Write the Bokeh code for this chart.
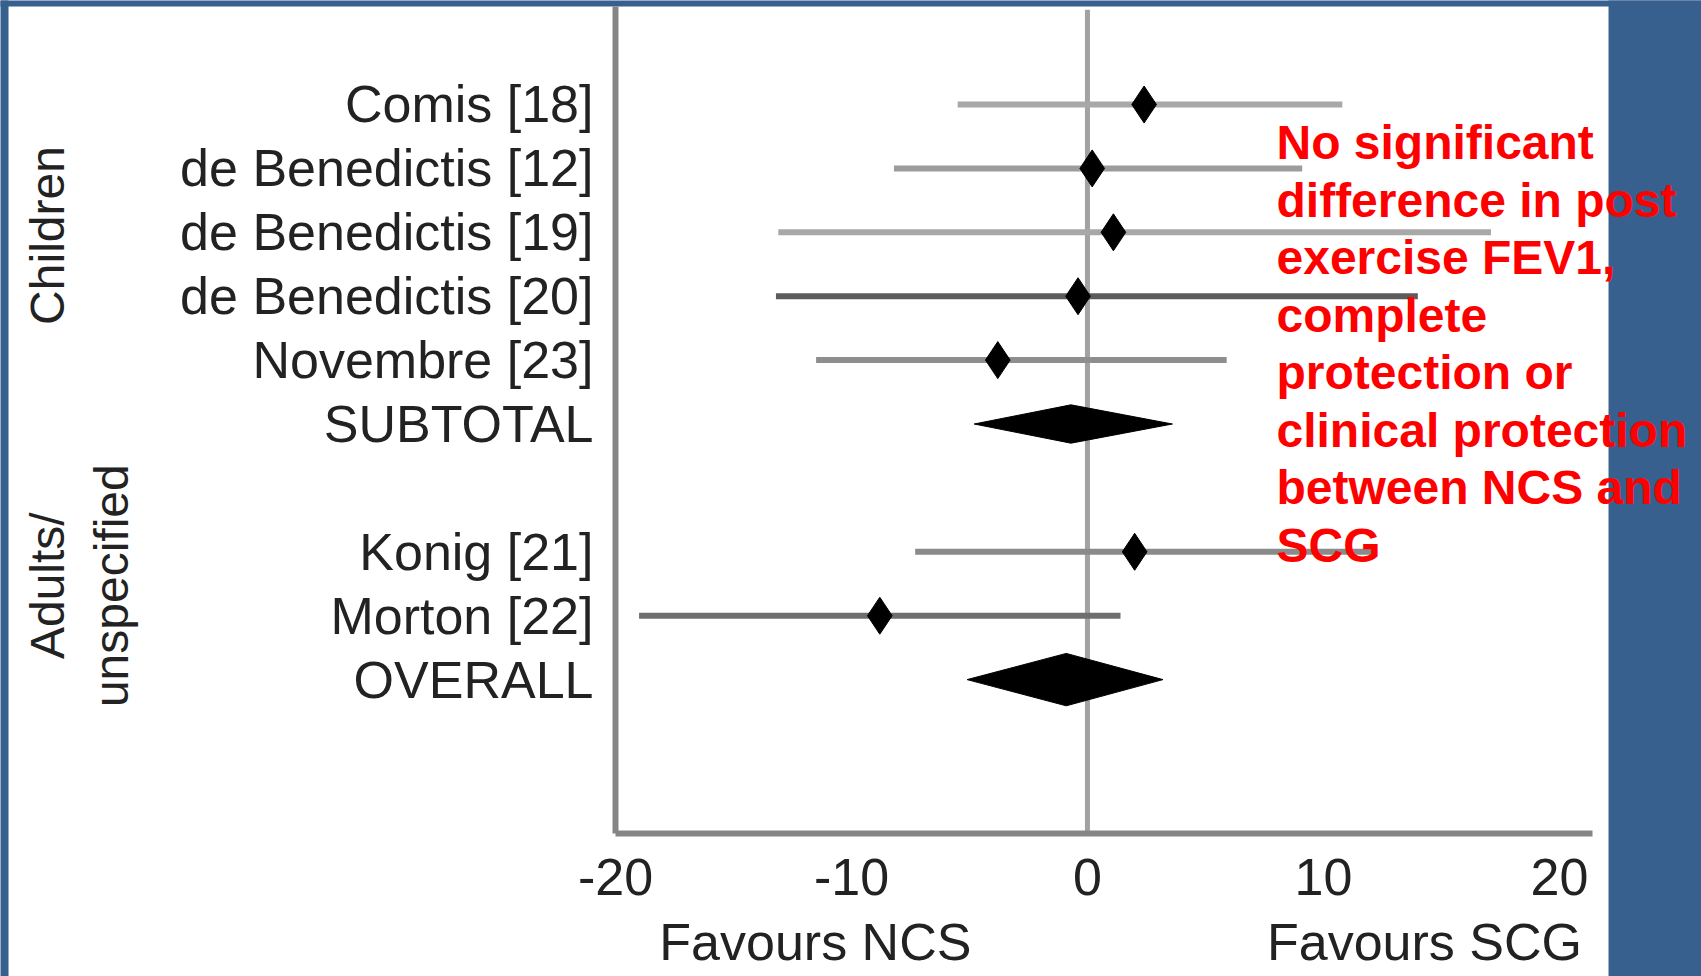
import math

from bokeh.plotting import figure
from bokeh.models import Range1d, FixedTicker, Label, BoxAnnotation, ColumnDataSource, LinearAxis
from bokeh.embed import file_html
from bokeh.resources import INLINE

# Individual trials: mean difference in post-exercise FEV1 with 95% CI
study_names = ["Comis [18]", "de Benedictis [12]", "de Benedictis [19]",
               "de Benedictis [20]", "Novembre [23]", "Konig [21]", "Morton [22]"]
study_rows = [1, 2, 3, 4, 5, 8, 9]
study_est = [2.4, 0.2, 1.1, -0.4, -3.8, 2.0, -8.8]
study_lo = [-5.5, -8.2, -13.1, -13.2, -11.5, -7.3, -19.0]
study_hi = [10.8, 9.1, 17.1, 14.0, 5.9, 12.2, 1.4]

# Pooled estimates
pooled_names = ["SUBTOTAL", "OVERALL"]
pooled_rows = [6, 10]
pooled_est = [-0.7, -0.9]
pooled_lo = [-4.8, -5.1]
pooled_hi = [3.6, 3.2]

x_ticks = [-20, -10, 0, 10, 20]
x_tick_labels = ["-20", "-10", "0", "10", "20"]

group_children = "Children"
group_adults = ["Adults/", "unspecified"]
favours_left = "Favours NCS"
favours_right = "Favours SCG"
note_lines = ["No significant", "difference in post", "exercise FEV1,", "complete",
              "protection or", "clinical protection", "between NCS and", "SCG"]

# ---- styling ----
BLUE = "#37608f"
INK = "#222222"
AXIS_GREY = "#858585"
FONT = "Liberation Sans"
FS = "52px"
ci_colors = ["#a8a8a8", "#9c9c9c", "#a8a8a8", "#5c5c5c", "#8e8e8e", "#8a8a8a", "#6e6e6e"]
pooled_half_height = [0.30, 0.41]

# plotting area extents (data units)
X_LEFT, X_RIGHT = -20, 21.4
Y_TOP, Y_BOTTOM = -0.534, 12.408

# The frame spans the whole canvas so the side texts and the slide border can live in it
p = figure(width=1701, height=976,
           x_range=Range1d(-46.06, 26.02), y_range=Range1d(14.646, -0.6275),
           output_backend="svg", toolbar_location=None,
           min_border=0, min_border_left=0, min_border_right=0,
           min_border_top=0, min_border_bottom=0,
           x_axis_location=None, y_axis_location=None)
p.background_fill_color = "white"
p.border_fill_color = "white"
p.outline_line_color = None
p.grid.visible = False

xaxis = LinearAxis(fixed_location=Y_BOTTOM, bounds=(X_LEFT, X_RIGHT),
                   ticker=FixedTicker(ticks=x_ticks),
                   major_label_overrides={t: s for t, s in zip(x_ticks, x_tick_labels)})
yaxis = LinearAxis(fixed_location=X_LEFT, bounds=(Y_TOP, Y_BOTTOM),
                   ticker=FixedTicker(ticks=study_rows + pooled_rows),
                   major_label_overrides={r: n for r, n in zip(study_rows + pooled_rows,
                                                               study_names + pooled_names)})
for ax in (xaxis, yaxis):
    ax.axis_line_color = AXIS_GREY
    ax.axis_line_width = 6
    ax.major_tick_line_color = None
    ax.minor_tick_line_color = None
    ax.major_tick_out = 0
    ax.major_tick_in = 0
    ax.major_label_text_font = FONT
    ax.major_label_text_font_size = FS
    ax.major_label_text_color = INK
xaxis.major_label_standoff = 26
yaxis.major_label_standoff = 22
p.add_layout(xaxis, "below")
p.add_layout(yaxis, "left")

# Line of no effect
p.segment(x0=[0], y0=[Y_TOP + 0.05], x1=[0], y1=[Y_BOTTOM], line_color="#a2a2a2",
          line_width=5)

# Confidence intervals and point estimates
src = ColumnDataSource(dict(row=study_rows, est=study_est, lo=study_lo, hi=study_hi,
                            color=ci_colors))
p.segment(x0="lo", y0="row", x1="hi", y1="row", source=src,
          line_color="color", line_width=6)
p.scatter(x="est", y="row", source=src, marker="diamond", size=37,
          fill_color="black", line_color="black")

# Pooled diamonds
xs = [[lo, est, hi, est] for lo, est, hi in zip(pooled_lo, pooled_est, pooled_hi)]
ys = [[r, r - h, r, r + h] for r, h in zip(pooled_rows, pooled_half_height)]
p.patches(xs=xs, ys=ys, fill_color="black", line_color="black", line_width=1)

# Slide border in blue
for l, r, t, b in [(-47, -45.72, -1, 15.5), (-47, 27, -1, Y_TOP), (22.08, 27, -1, 15.5)]:
    p.add_layout(BoxAnnotation(left=l, right=r, top=t, bottom=b, fill_color=BLUE,
                               fill_alpha=1, line_color=None, level="underlay"))

# Group labels
GFS = "48px"
p.add_layout(Label(x=-44.05, y=3.05, text=group_children, angle=math.pi / 2,
                   text_align="center", text_baseline="middle",
                   text_font=FONT, text_font_size=GFS, text_color=INK))
for x, t in zip([-44.05, -41.35], group_adults):
    p.add_layout(Label(x=x, y=8.53, text=t, angle=math.pi / 2,
                       text_align="center", text_baseline="middle",
                       text_font=FONT, text_font_size=GFS, text_color=INK))

# Direction labels under the axis
for x, t in zip([-11.53, 14.28], [favours_left, favours_right]):
    p.add_layout(Label(x=x, y=14.1, text=t, text_align="center", text_baseline="middle",
                       text_font=FONT, text_font_size=FS, text_color=INK))

# Conclusion note
note_top, note_step = 1.595, 0.9
for i, line in enumerate(note_lines):
    p.add_layout(Label(x=8.01, y=note_top + i * note_step, text=line,
                       text_align="left", text_baseline="middle",
                       text_font=FONT, text_font_style="bold",
                       text_font_size="48px", text_color="#ff0000"))

open("out.html", "w").write(file_html(p, INLINE))
